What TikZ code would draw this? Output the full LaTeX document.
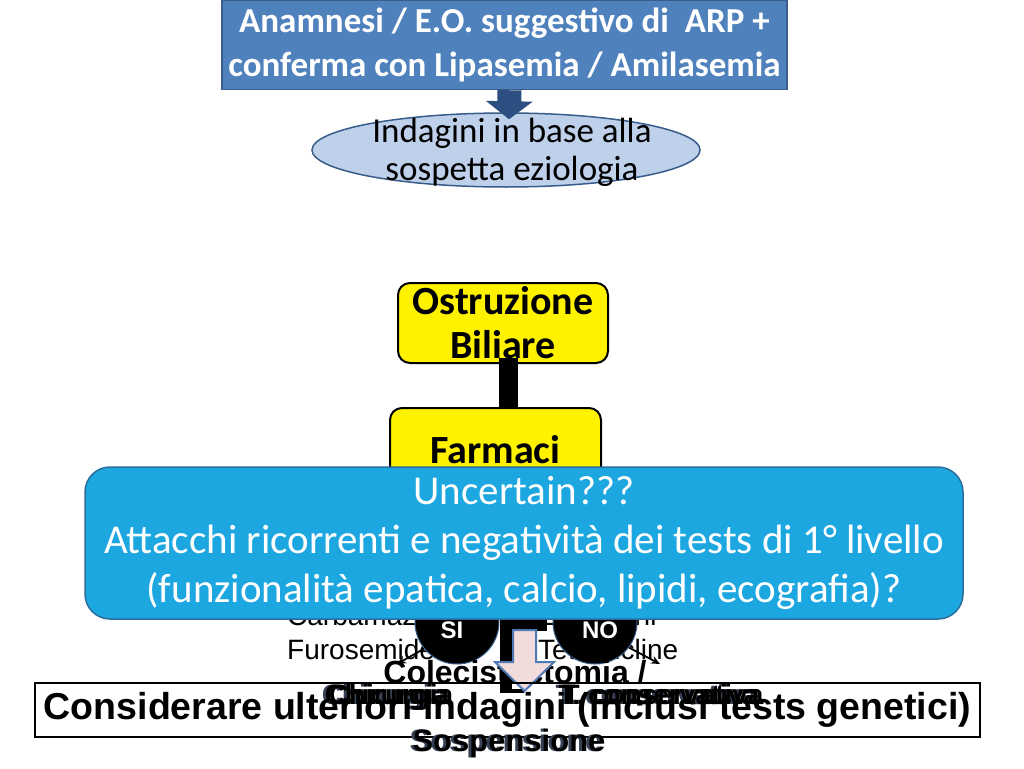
\documentclass[tikz,border=0pt]{standalone}
\usepackage{fontspec}
\setmainfont{Carlito}
\newfontfamily\arialf{Liberation Sans}
\usetikzlibrary{shapes.geometric,arrows.meta,calc}
\definecolor{topfill}{RGB}{79,129,189}
\definecolor{topdraw}{RGB}{56,93,138}
\definecolor{arrowblue}{RGB}{44,78,128}
\definecolor{ellfill}{RGB}{190,208,234}
\definecolor{elldraw}{RGB}{56,93,138}
\definecolor{cyanfill}{RGB}{29,167,225}
\definecolor{cyandraw}{RGB}{42,110,155}
\definecolor{pinkfill}{RGB}{242,220,219}
\definecolor{pinkdraw}{RGB}{79,120,180}
\definecolor{shadowblue}{RGB}{55,65,85}
\tikzset{
  topbox/.style={draw=topdraw, fill=topfill, line width=1.5pt, minimum width=565pt,
    minimum height=89pt, inner sep=0pt, text=white, align=center,
    font=\fontsize{35}{44}\selectfont\bfseries},
  ellnode/.style={ellipse, draw=elldraw, fill=ellfill, line width=1.5pt, minimum width=388pt,
    minimum height=74pt, inner sep=0pt},
  elltext/.style={inner sep=0pt, align=center, font=\fontsize{35}{38}\selectfont},
  ybox/.style={draw=black, fill=yellow, line width=2pt, rounded corners=12pt, inner sep=0pt,
    align=center, font=\fontsize{40}{44}\selectfont\bfseries},
  cyanbox/.style={draw=cyandraw, fill=cyanfill, line width=1.5pt, rounded corners=25pt,
    minimum width=878pt, minimum height=152pt, inner sep=0pt, text=white, align=center,
    font=\fontsize{41}{49}\selectfont},
  drug/.style={inner sep=0pt, anchor=base west, font=\arialf\fontsize{28}{32}\selectfont},
  bcirc/.style={circle, fill=black, draw=topdraw, line width=1pt, minimum size=84pt, inner sep=0pt},
  ctext/.style={inner sep=0pt, text=white, font=\arialf\bfseries\fontsize{24}{26}\selectfont},
  thinarrow/.style={line width=1.8pt, -{Stealth[length=9pt,width=8pt]}},
  boldtxt/.style={inner sep=0pt, anchor=base, font=\arialf\bfseries\fontsize{#1}{#1}\selectfont},
}
\begin{document}
\begin{tikzpicture}[x=1pt,y=-1pt]
\useasboundingbox[fill=white] (0,0) rectangle (1024,768);

% top box, arrow, ellipse
\node[topbox] (top) at (504.5,45) {Anamnesi / E.O. suggestivo di\ \ ARP +\\conferma con Lipasemia / Amilasemia};
\node[ellnode] (ell) at (506,150) {};
\node[elltext] (elltx) at (512,152) {Indagini in base alla\\sospetta eziologia};
\draw[line width=24pt, arrowblue, -{Triangle[width=46pt,length=18pt]}]
  ([xshift=5pt]top.south) -- ([xshift=3pt,yshift=-7pt]ell.north);

% Farmaci box (partly hidden)
\node[ybox, minimum width=211pt, minimum height=84pt] (farm) at (495.5,450) {Farmaci};

% drug list
\node[drug] (carb) at (287,625) {Carbamazepina};
\node[drug] (furo) at (287,659) {Furosemide};
\node[drug] (estr) at (538,625) {Estrogeni};
\node[drug] (tetra) at (538,659) {Tetracicline};

% SI / NO circles
\node[bcirc] (si) at (457,622) {};
\node[bcirc] (no) at (595,622) {};
\node[ctext] (sit) at (452,630) {SI};
\node[ctext] (not) at (600,630) {NO};

% black connector bars
\draw[line width=12pt] (505.5,615) -- (505.5,690);
\draw[line width=4pt] (500,691) -- (524,691);
\fill (512,615) rectangle (547,631);

% arrows from circles
\coordinate (leftend) at (397,664);
\coordinate (rightend) at (660,664);
\draw[thinarrow] (si.219) -- (leftend);
\draw[thinarrow] (no.-37) -- (rightend);

% Colecistectomia
\node[boldtxt=32] (cole) at (515,683) {Colecistectomia /};

% pink arrow
\draw[pinkdraw, fill=pinkfill, line width=2pt]
  (513,630) -- (536,630) -- (536,662) -- (554,662) -- (524.5,691) -- (495,662) -- (513,662) -- cycle;

% cyan box
\node[cyanbox] (unc) at (524,543) {Uncertain???\\Attacchi ricorrenti e negatività dei tests di 1° livello\\(funzionalità epatica, calcio, lipidi, ecografia)?};

% Ostruzione box and bar (on top)
\node[ybox, minimum width=210pt, minimum height=80pt] (ostr) at (503,323) {Ostruzione\\Biliare};
\draw[line width=19pt] ([shift={(5.5pt,6pt)}]ostr.south) -- ([xshift=13pt]farm.north);

% overlapping labels
\node[boldtxt=28, text=shadowblue] at (384,704) {Chirurgia};
\node[boldtxt=28] at (387,704) {Chirurgia};
\node[boldtxt=28] (chir) at (391,704) {Chirurgia};
\node[boldtxt=28, text=shadowblue] at (656,704) {T. conservativa};
\node[boldtxt=28] at (659,704) {T. conservativa};
\node[boldtxt=28] (tcons) at (663,704) {T. conservativa};

% bottom box
\node[draw=black, line width=2pt, minimum width=945pt, minimum height=54pt, inner sep=0pt,
  font=\arialf\bfseries\fontsize{37.5}{37}\selectfont] (cons) at (507.5,710)
  {Considerare ulteriori indagini (inclusi tests genetici)};

\node[boldtxt=31, text=shadowblue] at (506,751) {Sospensione};
\node[boldtxt=31] (sosp) at (509,751) {Sospensione};
\end{tikzpicture}
\end{document}
